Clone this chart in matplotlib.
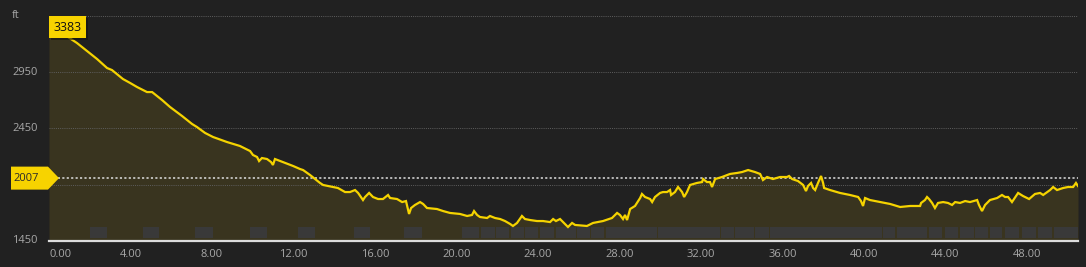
import numpy as np
import matplotlib.pyplot as plt
from matplotlib.patches import Polygon
from matplotlib.transforms import ScaledTranslation

# elevation profile, distance in km, elevation in ft
dist = [0.00, 0.93, 1.37, 2.36, 2.85, 3.09, 3.63, 3.98, 4.32, 4.81, 5.06, 5.30, 5.55, 5.94,
        6.53, 7.02, 7.26, 7.66, 8.05, 8.74, 9.37, 9.87, 10.01, 10.21, 10.31, 10.45, 10.70,
        10.90, 10.99, 11.09, 11.48, 11.98, 12.32, 12.47, 12.81, 13.06, 13.30, 13.45, 13.94,
        14.18, 14.53, 14.77, 15.02, 15.17, 15.41, 15.51, 15.71, 15.90, 16.15, 16.39, 16.64,
        16.74, 17.08, 17.33, 17.52, 17.67, 17.77, 17.96, 18.21, 18.36, 18.55, 19.04, 19.34,
        19.68, 20.17, 20.52, 20.76, 20.86, 21.01, 21.15, 21.50, 21.64, 21.89, 22.14, 22.38,
        22.63, 22.77, 22.97, 23.21, 23.36, 23.61, 23.95, 24.25, 24.59, 24.74, 24.88, 25.08,
        25.23, 25.37, 25.47, 25.67, 25.82, 26.40, 26.70, 27.19, 27.63, 27.88, 28.02, 28.17,
        28.27, 28.37, 28.52, 28.76, 29.01, 29.10, 29.25, 29.50, 29.60, 29.74, 29.99, 30.13,
        30.33, 30.48, 30.53, 30.72, 30.87, 31.07, 31.17, 31.31, 31.46, 31.80, 32.05, 32.10,
        32.29, 32.44, 32.54, 32.69, 33.03, 33.42, 33.77, 34.01, 34.31, 34.65, 34.90, 35.04,
        35.24, 35.53, 35.88, 36.22, 36.32, 36.47, 36.76, 37.01, 37.15, 37.25, 37.40, 37.50,
        37.60, 37.74, 37.89, 37.99, 38.04, 38.33, 38.82, 39.31, 39.71, 39.85, 39.95, 40.05,
        40.29, 40.79, 41.28, 41.77, 42.26, 42.75, 42.80, 42.99, 43.09, 43.19, 43.34, 43.48,
        43.63, 43.88, 44.12, 44.32, 44.47, 44.71, 44.96, 45.20, 45.55, 45.64, 45.79, 45.94,
        46.18, 46.53, 46.77, 46.92, 47.07, 47.26, 47.56, 47.80, 48.10, 48.39, 48.64, 48.79,
        49.13, 49.28, 49.47, 49.77, 50.01, 50.26, 50.40, 50.50]
elev = [3383, 3263, 3210, 3067, 2987, 2969, 2889, 2854, 2818, 2773, 2773, 2738, 2702, 2640,
        2560, 2489, 2462, 2409, 2373, 2328, 2293, 2248, 2213, 2195, 2159, 2186, 2177,
        2150, 2124, 2177, 2150, 2115, 2088, 2079, 2035, 1999, 1964, 1946, 1928,
        1919, 1883, 1883, 1901, 1875, 1812, 1839, 1875, 1839, 1821, 1821, 1857,
        1830, 1821, 1794, 1803, 1688, 1741, 1768, 1794, 1777, 1741, 1732, 1714,
        1697, 1688, 1670, 1679, 1714, 1679, 1661, 1652, 1670, 1652, 1643, 1625,
        1599, 1581, 1608, 1670, 1643, 1634, 1625, 1625, 1616, 1643, 1625, 1643,
        1616, 1590, 1572, 1608, 1590, 1581, 1608, 1625, 1652, 1697, 1679, 1643,
        1679, 1634, 1732, 1759, 1830, 1866, 1839, 1821, 1794, 1839, 1875, 1883,
        1883, 1901, 1857, 1883, 1928, 1883, 1839, 1883, 1946, 1964, 1972, 1999,
        1972, 1972, 1928, 1999, 2017, 2044, 2053, 2061, 2079, 2061, 2044, 1990,
        2017, 1999, 2017, 2017, 2026, 1999, 1981, 1946, 1892, 1937, 1964, 1919,
        1901, 1964, 2026, 1964, 1919, 1901, 1875, 1857, 1839, 1803, 1759, 1830,
        1812, 1794, 1777, 1750, 1759, 1759, 1786, 1812, 1839, 1821, 1786, 1741,
        1786, 1794, 1786, 1768, 1794, 1786, 1803, 1794, 1812, 1768, 1714, 1768,
        1812, 1830, 1857, 1839, 1839, 1794, 1875, 1848, 1821, 1866, 1875, 1857,
        1901, 1928, 1901, 1919, 1928, 1928, 1964, 1937]

# gray segment blocks along the bottom (km)
seg_start = [2.01, 4.61, 7.17, 9.87, 12.22, 14.97, 17.42, 20.27, 21.20, 21.94, 22.67, 23.36,
             24.10, 24.88, 25.91, 26.60, 27.34, 29.89, 32.98, 33.67, 34.65, 35.39, 40.93,
             41.62, 43.19, 43.98, 44.71, 45.45, 46.18, 46.92, 47.75, 48.54, 49.33]
seg_end = [2.85, 5.40, 8.05, 10.70, 13.06, 15.75, 18.31, 21.10, 21.89, 22.58, 23.31, 24.00,
           24.79, 25.87, 26.55, 27.24, 29.84, 32.93, 33.62, 34.60, 35.34, 40.88, 41.52,
           43.09, 43.83, 44.61, 45.40, 46.09, 46.77, 47.61, 48.44, 49.23, 50.50]

avg_elev = 2007
y_ticks = [1450, 1950, 2450, 2950, 3450]
x_ticks = [0, 4, 8, 12, 16, 20, 24, 28, 32, 36, 40, 44, 48]

BG = '#212121'
FILL = '#39341f'
LINE = '#f5d300'
BLOCK = '#393939'
TXT = '#a8a8a8'

plt.rcParams['font.family'] = ['Open Sans', 'DejaVu Sans']

fig = plt.figure(figsize=(10.86, 2.67), dpi=100, facecolor=BG)
ax = fig.add_axes([49 / 1086, 26.3 / 267, 1029 / 1086, 224.7 / 267])
ax.set_facecolor(BG)

ax.fill_between(dist, elev, 1450, color=FILL, lw=0, zorder=1)
ax.broken_barh([(s, e - s) for s, e in zip(seg_start, seg_end)], (0.014, 0.047),
               transform=ax.get_xaxis_transform(), facecolors=BLOCK, zorder=2)
ax.plot(dist, elev, color=LINE, lw=1.6, zorder=4, solid_joinstyle='miter')

for yv in y_ticks[1:]:
    ax.axhline(yv, color='#5e5e5e', lw=0.7, ls=(0, (1.0, 1.2)), zorder=3)
ax.axhline(avg_elev, color='#e0e0e0', lw=1.1, ls=(0, (1.4, 1.5)), zorder=3)

ax.set_xlim(0, 50.5)
ax.set_ylim(1450, 3450)
for s in ['top', 'right', 'left']:
    ax.spines[s].set_visible(False)
ax.spines['bottom'].set_color('#dcdcdc')
ax.spines['bottom'].set_linewidth(1.6)
ax.spines['bottom'].set_zorder(5)

ax.set_xticks(x_ticks)
ax.set_xticklabels(['%.2f' % v for v in x_ticks])
ax.tick_params(axis='x', length=0, pad=6, colors=TXT, labelsize=8)
ax.get_xticklabels()[0].set_horizontalalignment('left')
ax.set_yticks([])

# y labels sit at the far left of the figure
for yv in [1450, 2450, 2950]:
    ax.text(-37 / 1029, yv, str(yv), transform=ax.get_yaxis_transform(),
            ha='left', va='center', color=TXT, fontsize=8, clip_on=False)
ax.text(-37 / 1029, 3450, 'ft', transform=ax.get_yaxis_transform(),
        ha='left', va='center', color=TXT, fontsize=8, clip_on=False)

# average marker (pennant) at the left
tr = fig.dpi_scale_trans + ScaledTranslation(0, avg_elev, ax.transData)
pen = Polygon([(-0.38, 0.115), (-0.01, 0.115), (0.10, 0), (-0.01, -0.115), (-0.38, -0.115)],
              closed=True, transform=tr, facecolor='#f7d300', edgecolor='none',
              clip_on=False, zorder=6)
ax.add_patch(pen)
ax.text(-0.225, 0, str(avg_elev), transform=tr, ha='center', va='center',
        color='#2a2a2a', fontsize=8, clip_on=False, zorder=7)

# max label box
max_i = int(np.argmax(elev))
tr2 = fig.dpi_scale_trans + ScaledTranslation(dist[max_i], elev[max_i], ax.transData)
shadow = Polygon([(0.02, 0.055), (0.385, 0.055), (0.385, -0.165), (0.02, -0.165)],
                 transform=tr2, facecolor='#111111', edgecolor='none', alpha=0.6,
                 clip_on=False, zorder=6)
ax.add_patch(shadow)
box = Polygon([(0.0, 0.075), (0.37, 0.075), (0.37, -0.145), (0.0, -0.145)],
              transform=tr2, facecolor='#f7d300', edgecolor='none', clip_on=False, zorder=7)
ax.add_patch(box)
ax.text(0.185, -0.035, str(elev[max_i]), transform=tr2, ha='center', va='center',
        color='#111111', fontsize=9, clip_on=False, zorder=8)

fig.savefig('out.png', dpi=100, facecolor=BG)
